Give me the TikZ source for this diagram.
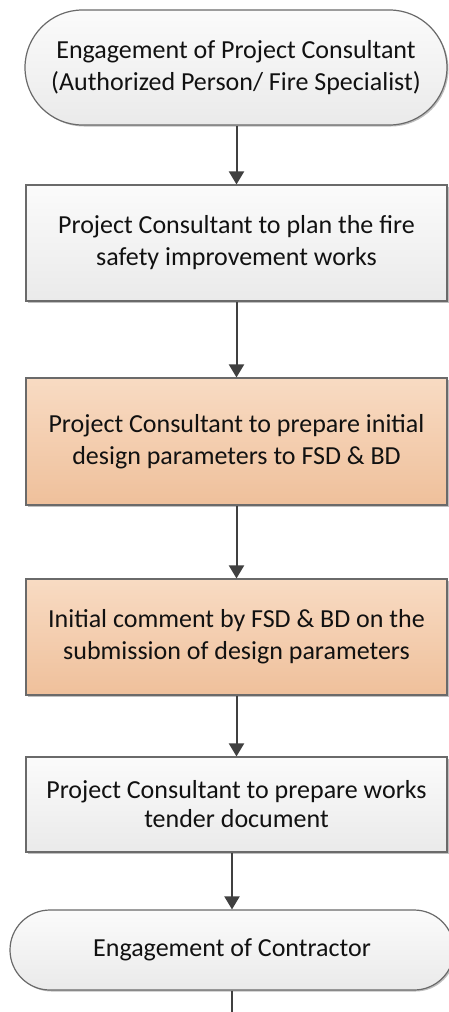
\documentclass[tikz,border=0pt]{standalone}
\usepackage{fontspec}
\setmainfont{Carlito}
\usetikzlibrary{arrows.meta,shapes.misc,shadows}
\definecolor{edgegray}{HTML}{6A6A6A}
\definecolor{arrowgray}{HTML}{404040}
\definecolor{graytop}{HTML}{FBFBFB}
\definecolor{graybot}{HTML}{EAEAEA}
\definecolor{orgtop}{HTML}{F8DBC3}
\definecolor{orgbot}{HTML}{EFC09B}
\definecolor{txt}{HTML}{111111}
\tikzset{
  base/.style={draw=edgegray, line width=1.2pt, text=txt, align=center,
    font=\fontsize{26}{32}\selectfont, inner sep=0pt,
    drop shadow={shadow xshift=1.5pt, shadow yshift=-1.5pt, opacity=0.25, fill=black}},
  graybox/.style={base, rectangle, top color=graytop, bottom color=graybot},
  orangebox/.style={base, rectangle, top color=orgtop, bottom color=orgbot},
  terminal/.style={base, rounded rectangle, top color=graytop, bottom color=graybot},
  flow/.style={draw=arrowgray, line width=2pt, -{Triangle[width=15pt,length=13pt]}},
  plainline/.style={draw=arrowgray, line width=2pt}
}
\begin{document}
\begin{tikzpicture}[x=1pt,y=-1pt]
\useasboundingbox (0,0) rectangle (449,1012);
\fill[white] (0,0) rectangle (449,1012);

\node[terminal, minimum width=422pt, minimum height=115pt] (t1) at (236,67.5)
  {Engagement of Project Consultant\\(Authorized Person/ Fire Specialist)};
\node[graybox, minimum width=421pt, minimum height=116pt] (b1) at (236.5,243)
  {Project Consultant to plan the fire\\safety improvement works};
\node[orangebox, minimum width=421pt, minimum height=127pt] (b2) at (236.5,441.5)
  {Project Consultant to prepare initial\\design parameters to FSD \& BD};
\node[orangebox, minimum width=421pt, minimum height=116pt] (b3) at (236.5,637)
  {Initial comment by FSD \& BD on the\\submission of design parameters};
\node[graybox, minimum width=421pt, minimum height=95pt, font=\fontsize{26}{29}\selectfont] (b4) at (236.5,804.5)
  {Project Consultant to prepare works\\tender document};
\node[terminal, minimum width=444pt, minimum height=80pt] (t2) at (232,950)
  {Engagement of Contractor};
\coordinate (end) at (232,1012);

\draw[flow] (t1.south -| b1.north) -- (b1.north);
\draw[flow] (b1.south) -- (b2.north);
\draw[flow] (b2.south) -- (b3.north);
\draw[flow] (b3.south) -- (b4.north);
\draw[flow] (t2.north |- b4.south) -- (t2.north);
\draw[plainline] (t2.south) -- (end);
\end{tikzpicture}
\end{document}
